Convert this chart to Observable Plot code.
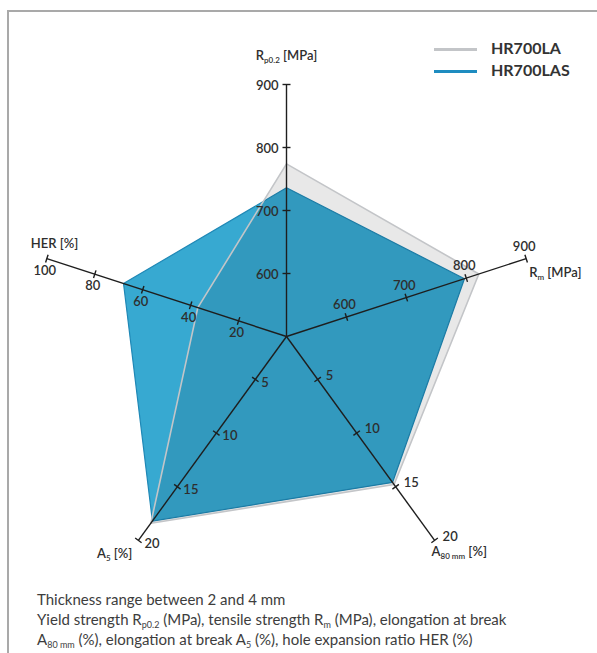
<!DOCTYPE html>
<html><head><meta charset="utf-8">
<script src="https://cdn.jsdelivr.net/npm/d3@7"></script>
<script src="https://cdn.jsdelivr.net/npm/@observablehq/plot@0.6"></script>
<style>
body{margin:0;background:#fff;font-family:Lato,"Noto Sans",sans-serif;}
#page{position:relative;width:597px;height:653px;overflow:hidden;background:#fff;}
#frame{position:absolute;left:7px;top:10px;right:-4px;bottom:-4px;border-top:2px solid #a9a9a9;border-left:2px solid #a9a9a9;}
#chart{position:absolute;left:0;top:0;}
.legend{position:absolute;left:434px;font-size:16px;font-weight:700;color:#333;}
.legend .row{position:relative;height:22px;}
.legend .sw{position:absolute;left:0;top:9px;width:43px;height:3px;}
.legend .lab{position:absolute;left:57px;top:-1px;white-space:nowrap;}
.caption{position:absolute;left:37px;top:589px;font-size:15px;line-height:20px;color:#3d3d3d;white-space:nowrap;}
.caption sub{font-size:9px;line-height:0;vertical-align:-3px;}
</style></head>
<body>
<div id="page">
  <div id="frame"></div>
  <div id="chart"></div>
  <div class="legend" id="legend" style="top:39px"></div>
  <div class="caption">Thickness range between 2 and 4 mm<br>Yield strength R<sub>p0.2</sub> (MPa), tensile strength R<sub>m</sub> (MPa), elongation at break<br>A<sub>80 mm</sub> (%), elongation at break A<sub>5</sub> (%), hole expansion ratio HER (%)</div>
</div>
<script>
// ---- data ----
const axisNames = ["Rp0.2", "Rm", "A80mm", "A5", "HER"];
const axisMin = [500, 500, 1, 1, 0];
const axisMax = [900, 900, 20, 20, 100];
const rpTicks = [600, 700, 800, 900];
const rmTicks = [600, 700, 800, 900];
const a80Ticks = [5, 10, 15, 20];
const a5Ticks = [5, 10, 15, 20];
const herTicks = [20, 40, 60, 80, 100];
const axisTitleMain = ["R", "R", "A", "A", "HER [%]"];
const axisTitleSub = ["p0.2", "m", "80 mm", "5", ""];
const axisTitleRest = [" [MPa]", " [MPa]", " [%]", " [%]", ""];
const seriesNames = ["HR700LA", "HR700LAS"];
const hr700la = [774, 821, 14.8, 18.4, 37];
const hr700las = [736, 797, 14.6, 18.2, 68];
const seriesColors = ["#c3c5c8", "#1e8cc0"];

// ---- geometry ----
const W = 597, H = 585, cx = 286, cy = 336, R = 252;
const allTicks = [rpTicks, rmTicks, a80Ticks, a5Ticks, herTicks];
const radial = axisNames.map((_, i) => d3.scaleLinear().domain([axisMin[i], axisMax[i]]).range([0, R]));
const ang = i => i * 2 * Math.PI / axisNames.length;
function pt(i, v) {
  const r = radial[i](v), a = ang(i);
  return {x: r * Math.sin(a), y: r * Math.cos(a)};
}

const axisLines = axisNames.map((name, i) => {
  const e = pt(i, axisMax[i]);
  return {name, x1: 0, y1: 0, x2: e.x, y2: e.y};
});
const tickMarks = [];
allTicks.forEach((ts, i) => ts.forEach(t => {
  const p = pt(i, t), a = ang(i), h = 4;
  tickMarks.push({axis: i, t, x1: p.x - h * Math.cos(a), y1: p.y + h * Math.sin(a), x2: p.x + h * Math.cos(a), y2: p.y - h * Math.sin(a)});
}));
const tickLabels = allTicks.map((ts, i) => ts.map(t => ({t, ...pt(i, t)})));
const labelStyle = [
  {dx: -8, dy: 1, textAnchor: "end"},
  {dx: -2, dy: -12, textAnchor: "middle"},
  {dx: 8, dy: -4, textAnchor: "start"},
  {dx: 6, dy: 3, textAnchor: "start"},
  {dx: -2, dy: 12, textAnchor: "middle"}
];
const titleStyle = [
  {dx: 0, dy: -29, textAnchor: "middle"},
  {dx: 3, dy: 14, textAnchor: "start"},
  {dx: -3, dy: 11, textAnchor: "start"},
  {dx: -6, dy: 13, textAnchor: "end"},
  {dx: -16, dy: -15, textAnchor: "start"}
];
const titles = axisNames.map((n, i) => ({i, ...pt(i, axisMax[i])}));

const poly = vals => vals.map((v, i) => pt(i, v));
const polyLA = poly(hr700la);
const polyLAS = poly(hr700las);

const marks = [
  Plot.line(polyLAS, {x: "x", y: "y", curve: "linear-closed", fill: "#37a9d1", stroke: "#1f88b6", strokeWidth: 1.2}),
  Plot.line(polyLA, {x: "x", y: "y", curve: "linear-closed", fill: "#000", fillOpacity: 0.09, stroke: seriesColors[0], strokeWidth: 1.6}),
  Plot.link(axisLines, {x1: "x1", y1: "y1", x2: "x2", y2: "y2", stroke: "#1e1e1e", strokeWidth: 1.4}),
  Plot.link(tickMarks, {x1: "x1", y1: "y1", x2: "x2", y2: "y2", stroke: "#1e1e1e", strokeWidth: 1.4})
];
tickLabels.forEach((arr, i) => {
  marks.push(Plot.text(arr, {x: "x", y: "y", text: d => String(d.t), ...labelStyle[i], fill: "#2e2e2e", fontSize: 13, fontWeight: 600}));
});
titles.forEach((t, i) => {
  marks.push(Plot.text([t], {x: "x", y: "y", text: d => axisTitleMain[d.i] + axisTitleSub[d.i] + axisTitleRest[d.i], ...titleStyle[i], fill: "#2e2e2e", fontSize: 13, fontWeight: 600, className: "axis-title-" + i}));
});

const chart = Plot.plot({
  width: W, height: H,
  marginLeft: 0, marginRight: 0, marginTop: 0, marginBottom: 0,
  x: {domain: [-cx, W - cx], axis: null},
  y: {domain: [-(H - cy), cy], axis: null},
  style: {background: "transparent", fontFamily: "Lato, 'Noto Sans', sans-serif", overflow: "visible"},
  marks
});
document.getElementById("chart").appendChild(chart);

// subscripts in axis titles
axisNames.forEach((n, i) => {
  if (!axisTitleSub[i]) return;
  const t = d3.select(chart).select("g.axis-title-" + i + " text");
  t.text(null);
  t.append("tspan").text(axisTitleMain[i]);
  t.append("tspan").attr("font-size", 8).attr("dy", 3).text(axisTitleSub[i]);
  t.append("tspan").attr("dy", -3).text(axisTitleRest[i]);
});

// legend
const leg = d3.select("#legend");
seriesNames.forEach((s, i) => {
  const row = leg.append("div").attr("class", "row");
  row.append("div").attr("class", "sw").style("background", seriesColors[i]);
  row.append("div").attr("class", "lab").text(s);
});
</script>
</body></html>
